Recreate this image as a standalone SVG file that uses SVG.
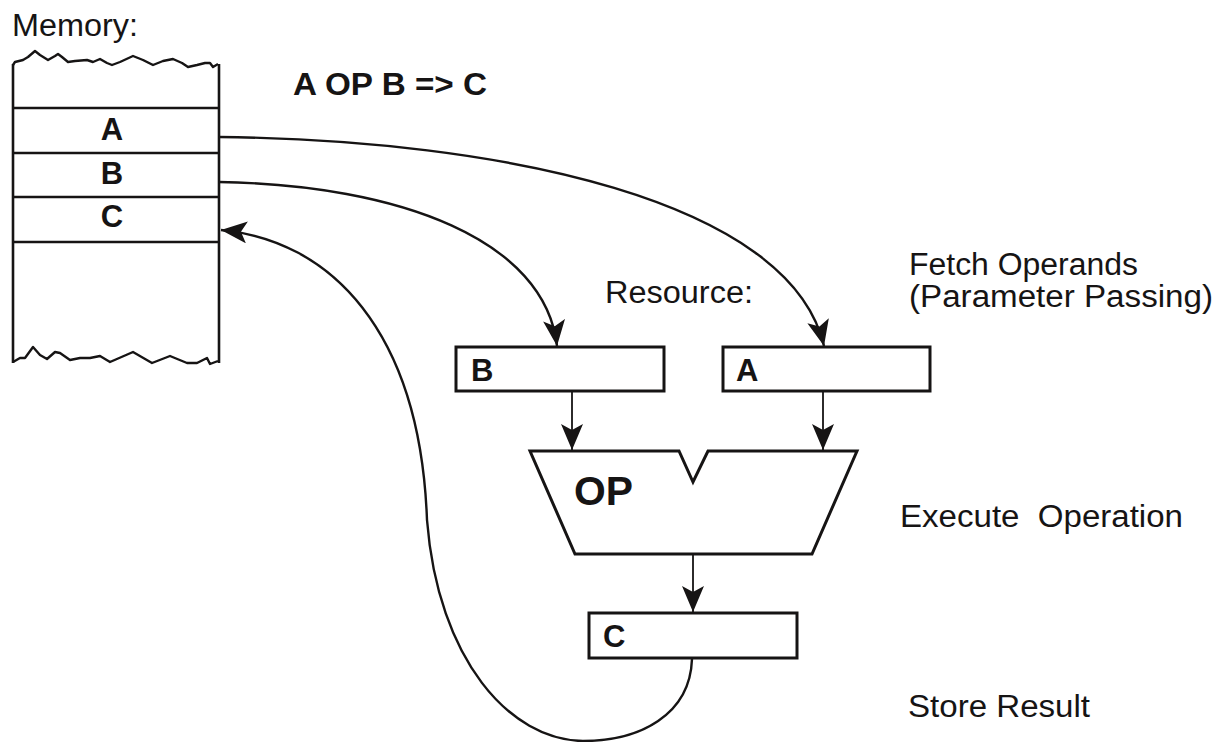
<svg xmlns="http://www.w3.org/2000/svg" width="1219" height="742" viewBox="0 0 1219 742">
<style>
text{font-family:"Liberation Sans",Arial,sans-serif;fill:#161414}
.lbl{font-size:31px}
.b{font-weight:bold}
.box{fill:#fff;stroke:#161414;stroke-width:3}
.mem{fill:none;stroke:#161414;stroke-width:2.6}
.wave{fill:none;stroke:#161414;stroke-width:2.4;stroke-linejoin:round}
.cur{fill:none;stroke:#161414;stroke-width:2.4}
.str{fill:none;stroke:#161414;stroke-width:1.8}
</style>
<defs>
<marker id="ah" viewBox="0 0 26 22" refX="26" refY="11" markerWidth="26" markerHeight="22" markerUnits="userSpaceOnUse" orient="auto">
<path d="M0,0 L26,11 L0,22 L6,11 z" fill="#161414"/>
</marker>
</defs>
<rect width="1219" height="742" fill="#fff"/>

<g id="memory">
<text class="lbl" x="12" y="36" textLength="126" lengthAdjust="spacingAndGlyphs">Memory:</text>
<polyline class="wave" points="13,65 15,62 23,60 28,57 35,51 40,55 48,60 55,56 58,54 62,57 68,62 75,61 87,60 93,62 100,59 107,63 112,65 120,62 133,56 143,60 153,65 163,61 173,59 182,63 188,67 197,65 205,63 210,63 213,67 218,64"/>
<polyline class="wave" points="13,362 20,358 25,358 33,347 40,355 47,359 55,352 60,353 70,360 80,358 90,358 100,356 110,362 133,352 152,363 170,356 187,363 197,363 207,358 210,364 218,361"/>
<line class="mem" x1="13" y1="64" x2="13" y2="363"/>
<line class="mem" x1="219" y1="64" x2="219" y2="363"/>
<line class="mem" x1="13" y1="108" x2="219" y2="108"/>
<line class="mem" x1="13" y1="153" x2="219" y2="153"/>
<line class="mem" x1="13" y1="197" x2="219" y2="197"/>
<line class="mem" x1="13" y1="242" x2="219" y2="242"/>
<text class="b" x="112" y="140" font-size="31" text-anchor="middle">A</text>
<text class="b" x="112" y="184" font-size="31" text-anchor="middle">B</text>
<text class="b" x="112" y="227" font-size="31" text-anchor="middle">C</text>
</g>

<g id="formula">
<text class="lbl b" x="293" y="95" textLength="194" lengthAdjust="spacingAndGlyphs">A OP B =&gt; C</text>
</g>

<g id="resource-label">
<text class="lbl" x="605" y="303" textLength="148" lengthAdjust="spacingAndGlyphs">Resource:</text>
</g>

<g id="regB">
<rect class="box" x="456" y="347" width="208" height="44"/>
<text class="b" x="471" y="381" font-size="31">B</text>
</g>

<g id="regA">
<rect class="box" x="723" y="347" width="207" height="44"/>
<text class="b" x="736" y="381" font-size="31">A</text>
</g>

<g id="op">
<path class="box" d="M530,451 L679,451 L693,482 L708,451 L857,451 L812,554 L575,554 Z" stroke-linejoin="miter"/>
<text class="b" x="574" y="505" font-size="40" textLength="59" lengthAdjust="spacingAndGlyphs">OP</text>
</g>

<g id="regC">
<rect class="box" x="589" y="613" width="208" height="45"/>
<text class="b" x="603" y="647" font-size="31">C</text>
</g>

<g id="labels">
<text class="lbl" x="909" y="275" textLength="229" lengthAdjust="spacingAndGlyphs">Fetch Operands</text>
<text class="lbl" x="909" y="307" textLength="304" lengthAdjust="spacingAndGlyphs">(Parameter Passing)</text>
<text class="lbl" x="900" y="527" textLength="283" lengthAdjust="spacingAndGlyphs">Execute &#160;Operation</text>
<text class="lbl" x="908" y="717" textLength="182" lengthAdjust="spacingAndGlyphs">Store Result</text>
</g>

<g id="connectors">
<path class="cur" d="M219,137 C500,140 790,200 824,346" marker-end="url(#ah)"/>
<path class="cur" d="M219,182 C400,185 545,240 557,346" marker-end="url(#ah)"/>
<path class="cur" d="M692,659 C690,715 640,741 583,741 C510,740 438,660 427,520 C420,330 330,240 221,230" marker-end="url(#ah)"/>
<line class="str" x1="572" y1="391" x2="572" y2="450" marker-end="url(#ah)"/>
<line class="str" x1="823" y1="391" x2="823" y2="450" marker-end="url(#ah)"/>
<line class="str" x1="693" y1="554" x2="693" y2="612" marker-end="url(#ah)"/>
</g>
</svg>
